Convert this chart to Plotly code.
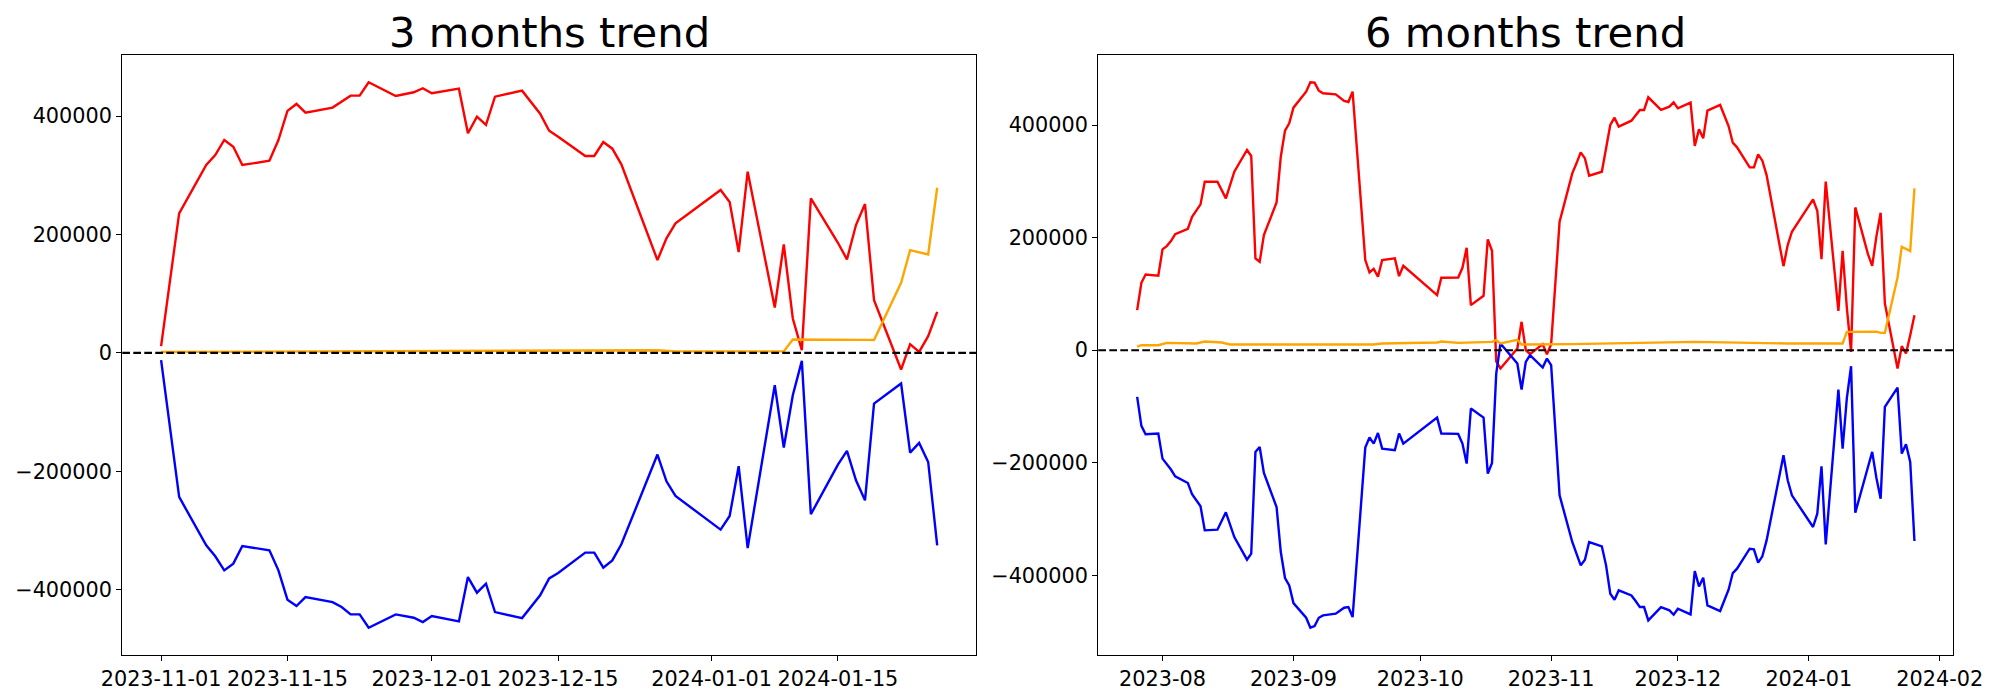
import plotly.graph_objects as go
from datetime import datetime, timedelta

# ---------------- 3 months trend ----------------
dates_3m = ["2023-11-01", "2023-11-03", "2023-11-06", "2023-11-07", "2023-11-08", "2023-11-09",
            "2023-11-10", "2023-11-13", "2023-11-14", "2023-11-15", "2023-11-16", "2023-11-17",
            "2023-11-20", "2023-11-21", "2023-11-22", "2023-11-23", "2023-11-24", "2023-11-27",
            "2023-11-29", "2023-11-30", "2023-12-01", "2023-12-04", "2023-12-05", "2023-12-06",
            "2023-12-07", "2023-12-08", "2023-12-11", "2023-12-13", "2023-12-14", "2023-12-15",
            "2023-12-18", "2023-12-19", "2023-12-20", "2023-12-21", "2023-12-22", "2023-12-26",
            "2023-12-27", "2023-12-28", "2024-01-02", "2024-01-03", "2024-01-04", "2024-01-05",
            "2024-01-08", "2024-01-09", "2024-01-10", "2024-01-11", "2024-01-12", "2024-01-15",
            "2024-01-16", "2024-01-17", "2024-01-18", "2024-01-19", "2024-01-22", "2024-01-23",
            "2024-01-24", "2024-01-25", "2024-01-26"]
red_3m = [11300, 235700, 317300, 334200, 359600, 348300,
          317300, 324600, 359600, 408700, 420500, 405800,
          414300, 424400, 434500, 434500, 457100, 434000,
          440200, 447000, 438500, 446300, 370900, 399000,
          385000, 432800, 442900, 404000, 375300, 365200,
          332600, 332600, 356200, 344900, 318500, 156700,
          193400, 218800, 275100, 254800, 170200, 306000,
          76700, 183300, 58100, 4600, 261000, 186000,
          157900, 215900, 251400, 89100, -28100, 14700,
          1700, 28200, 69300]
blue_3m = [-12300, -243400, -325100, -343700, -367400, -356100,
           -326300, -333600, -367400, -416900, -427700, -412500,
           -421000, -429400, -441800, -441800, -464300, -441800,
           -447400, -454800, -444600, -453600, -378700, -405100,
           -389900, -437900, -448000, -409600, -381000, -371900,
           -337500, -337500, -362800, -350500, -323400, -171800,
           -216900, -241700, -298600, -275600, -191500, -329700,
           -54600, -159900, -71500, -13500, -272700, -188700,
           -165700, -215200, -249000, -85600, -51800, -168400,
           -152100, -184300, -325100]
orange_dates_3m = ["2023-11-01", "2023-11-15", "2023-12-05", "2023-12-08", "2023-12-26", "2023-12-28",
                   "2024-01-09", "2024-01-10", "2024-01-16", "2024-01-17", "2024-01-18", "2024-01-19",
                   "2024-01-22", "2024-01-23", "2024-01-25", "2024-01-26"]
orange_3m = [1500, 2500, 4000, 3000, 4500, 2500,
             2500, 22600, 22600, 23100, 22000, 21800,
             118300, 173600, 166300, 278900]

# ---------------- 6 months trend ----------------
dates_6m = ["2023-07-26", "2023-07-27", "2023-07-28", "2023-07-31", "2023-08-01", "2023-08-02",
            "2023-08-03", "2023-08-04", "2023-08-07", "2023-08-08", "2023-08-10", "2023-08-11",
            "2023-08-14", "2023-08-16", "2023-08-18", "2023-08-21", "2023-08-22", "2023-08-23",
            "2023-08-24", "2023-08-25", "2023-08-28", "2023-08-29", "2023-08-30", "2023-08-31",
            "2023-09-01", "2023-09-04", "2023-09-05", "2023-09-06", "2023-09-07", "2023-09-08",
            "2023-09-11", "2023-09-13", "2023-09-14", "2023-09-15", "2023-09-18", "2023-09-19",
            "2023-09-20", "2023-09-21", "2023-09-22", "2023-09-25", "2023-09-26", "2023-09-27",
            "2023-10-05", "2023-10-06", "2023-10-10", "2023-10-11", "2023-10-12", "2023-10-13",
            "2023-10-16", "2023-10-17", "2023-10-18", "2023-10-19", "2023-10-20", "2023-10-24",
            "2023-10-25", "2023-10-26", "2023-10-27", "2023-10-30", "2023-10-31", "2023-11-01",
            "2023-11-03", "2023-11-06", "2023-11-07", "2023-11-08", "2023-11-09", "2023-11-10",
            "2023-11-13", "2023-11-14", "2023-11-15", "2023-11-16", "2023-11-17", "2023-11-20",
            "2023-11-21", "2023-11-22", "2023-11-23", "2023-11-24", "2023-11-27", "2023-11-29",
            "2023-11-30", "2023-12-01", "2023-12-04", "2023-12-05", "2023-12-06", "2023-12-07",
            "2023-12-08", "2023-12-11", "2023-12-13", "2023-12-14", "2023-12-15", "2023-12-18",
            "2023-12-19", "2023-12-20", "2023-12-21", "2023-12-22", "2023-12-26", "2023-12-27",
            "2023-12-28", "2024-01-02", "2024-01-03", "2024-01-04", "2024-01-05", "2024-01-08",
            "2024-01-09", "2024-01-10", "2024-01-11", "2024-01-12", "2024-01-15", "2024-01-16",
            "2024-01-17", "2024-01-18", "2024-01-19", "2024-01-22", "2024-01-23", "2024-01-24",
            "2024-01-25", "2024-01-26"]
red_6m = [71100, 119700, 134500, 132200, 179000, 184900,
          193800, 206200, 215700, 237000, 259000, 299300,
          299300, 269600, 317000, 355600, 344900, 163000,
          157000, 204400, 262500, 343700, 390000, 403000,
          430800, 459300, 475900, 475300, 461000, 456300,
          454500, 442700, 440900, 459300, 160000, 138100,
          144600, 130400, 160000, 163000, 131600, 149900,
          97800, 128600, 129200, 146400, 181900, 80000,
          96600, 196700, 176600, -20000, -32600, 3000,
          50400, 0, -7100, 10700, -7100, 10700,
          228100, 314100, 331900, 351400, 340700, 309900,
          317000, 355600, 400000, 413000, 397000, 407700,
          417800, 426700, 426700, 449200, 426700, 432600,
          440300, 429600, 439700, 362700, 392300, 376300,
          425500, 435600, 398200, 368600, 360300, 324700,
          324700, 347900, 336600, 311100, 149300, 186700,
          210400, 267900, 247700, 161800, 299300, 69900,
          176600, 75000, -3000, 253600, 170700, 149900,
          202100, 244100, 83000, -32600, 7100, -5900,
          26700, 62200]
blue_6m = [-83000, -134500, -149300, -148100, -192600, -201500,
           -212000, -224000, -235900, -256000, -277300, -320000,
           -318800, -288000, -331900, -372100, -361500, -180700,
           -171900, -218100, -278500, -358500, -404700, -417800,
           -449200, -475300, -493000, -490100, -475300, -471100,
           -468100, -457500, -456300, -474100, -173000, -155200,
           -165900, -147000, -174800, -177800, -147900, -165900,
           -119700, -148100, -148700, -165900, -201500, -103700,
           -119700, -219300, -200300, -41500, 11900, -23700,
           -69900, -20700, -8900, -30800, -14800, -26700,
           -257800, -340700, -360300, -382200, -372100, -340700,
           -348400, -382200, -432600, -443300, -426700, -435600,
           -445600, -456300, -456300, -480000, -456300, -462200,
           -469900, -459300, -469300, -392300, -419600, -404100,
           -453300, -463400, -425500, -395900, -388100, -352600,
           -353800, -377500, -366200, -337800, -186700, -231100,
           -257800, -314100, -290400, -206200, -344900, -69900,
           -174800, -85000, -28400, -288600, -207400, -180700,
           -227000, -263700, -100800, -66400, -183700, -167100,
           -198500, -339000]
orange_dates_6m = ["2023-07-26", "2023-07-27", "2023-07-31", "2023-08-02", "2023-08-09", "2023-08-11",
                   "2023-08-15", "2023-08-17", "2023-09-20", "2023-09-22", "2023-10-05", "2023-10-06",
                   "2023-10-10", "2023-10-18", "2023-10-19", "2023-10-20", "2023-10-24", "2023-10-25",
                   "2023-11-06", "2023-12-05", "2023-12-27", "2024-01-09", "2024-01-10", "2024-01-16",
                   "2024-01-17", "2024-01-18", "2024-01-19", "2024-01-22", "2024-01-23", "2024-01-25",
                   "2024-01-26"]
orange_6m = [6500, 8900, 8900, 13000, 11900, 15400,
             13600, 10100, 10100, 11900, 13600, 15400,
             13000, 14800, 17800, 11900, 18400, 10100,
             10700, 14800, 11900, 11900, 32600, 32600,
             33000, 30800, 30800, 129200, 183700, 176000,
             287400]

titles = ["3 months trend", "6 months trend"]
xtick_vals_3m = ["2023-11-01", "2023-11-15", "2023-12-01", "2023-12-15", "2024-01-01", "2024-01-15"]
xtick_text_3m = ["2023-11-01", "2023-11-15", "2023-12-01", "2023-12-15", "2024-01-01", "2024-01-15"]
xtick_vals_6m = ["2023-08-01", "2023-09-01", "2023-10-01", "2023-11-01", "2023-12-01", "2024-01-01", "2024-02-01"]
xtick_text_6m = ["2023-08", "2023-09", "2023-10", "2023-11", "2023-12", "2024-01", "2024-02"]
ytick_vals = [-400000, -200000, 0, 200000, 400000]
ytick_text = ["\u2212400000", "\u2212200000", "0", "200000", "400000"]

FONT = "DejaVu Sans"
W, H = 2000, 700
OFF = 8  # page body margin offset compensation (px)


def date_range(*lists, frac=0.05):
    ds = [datetime.strptime(d, "%Y-%m-%d") for l in lists for d in l]
    lo, hi = min(ds), max(ds)
    pad = (hi - lo) * frac
    return [(lo - pad).strftime("%Y-%m-%d %H:%M:%S"), (hi + pad).strftime("%Y-%m-%d %H:%M:%S")]


def val_range(*lists, frac=0.05):
    vs = [v for l in lists for v in l]
    lo, hi = min(vs), max(vs)
    pad = (hi - lo) * frac
    return [lo - pad, hi + pad]


fig = go.Figure()
LW = 2.4
for i, (d, r, b, od, o) in enumerate([
        (dates_3m, red_3m, blue_3m, orange_dates_3m, orange_3m),
        (dates_6m, red_6m, blue_6m, orange_dates_6m, orange_6m)]):
    xa = "x" if i == 0 else "x2"
    ya = "y" if i == 0 else "y2"
    fig.add_trace(go.Scatter(x=d, y=r, mode="lines", line=dict(color="red", width=LW),
                             xaxis=xa, yaxis=ya, showlegend=False))
    fig.add_trace(go.Scatter(x=d, y=b, mode="lines", line=dict(color="blue", width=LW),
                             xaxis=xa, yaxis=ya, showlegend=False))
    fig.add_trace(go.Scatter(x=od, y=o, mode="lines", line=dict(color="orange", width=LW),
                             xaxis=xa, yaxis=ya, showlegend=False))

px_x = lambda p: (p - OFF) / W
px_y = lambda p: 1 - (p - OFF) / H
dom_x1 = [px_x(122.3), px_x(976)]
dom_x2 = [px_x(1098.3), px_x(1953.3)]
dom_y = [px_y(655), px_y(55)]

axis_common = dict(showline=True, linecolor="black", linewidth=1.2, mirror=True,
                   ticks="outside", ticklen=5, tickwidth=1.2, tickcolor="black",
                   showgrid=False, zeroline=False, automargin=False,
                   tickfont=dict(family=FONT, size=20.8, color="black"))

fig.update_layout(
    template="none",
    width=W, height=H,
    margin=dict(l=0, r=0, t=0, b=0, autoexpand=False),
    paper_bgcolor="white", plot_bgcolor="white",
    font=dict(family=FONT, color="black"),
    xaxis=dict(domain=dom_x1, type="date", range=date_range(dates_3m, orange_dates_3m),
               tickmode="array", tickvals=xtick_vals_3m, ticktext=xtick_text_3m,
               anchor="y", **axis_common),
    yaxis=dict(domain=dom_y, range=val_range(red_3m, blue_3m, orange_3m),
               tickmode="array", tickvals=ytick_vals, ticktext=ytick_text,
               anchor="x", **axis_common),
    xaxis2=dict(domain=dom_x2, type="date", range=date_range(dates_6m, orange_dates_6m),
                tickmode="array", tickvals=xtick_vals_6m, ticktext=xtick_text_6m,
                anchor="y2", **axis_common),
    yaxis2=dict(domain=dom_y, range=val_range(red_6m, blue_6m, orange_6m),
                tickmode="array", tickvals=ytick_vals, ticktext=ytick_text,
                anchor="x2", **axis_common),
)

for xr, yr in [("x domain", "y"), ("x2 domain", "y2")]:
    fig.add_shape(type="line", xref=xr, yref=yr, x0=0, x1=1, y0=0, y1=0,
                  line=dict(color="black", width=2.1, dash="7.7px,3.3px"), layer="above")

for dom, t in [(dom_x1, titles[0]), (dom_x2, titles[1])]:
    fig.add_annotation(x=(dom[0] + dom[1]) / 2, y=dom_y[1], xref="paper", yref="paper",
                       text=t, showarrow=False, xanchor="center", yanchor="bottom",
                       yshift=-4, font=dict(family=FONT, size=41.7, color="black"))

fig.write_html("out.html")
